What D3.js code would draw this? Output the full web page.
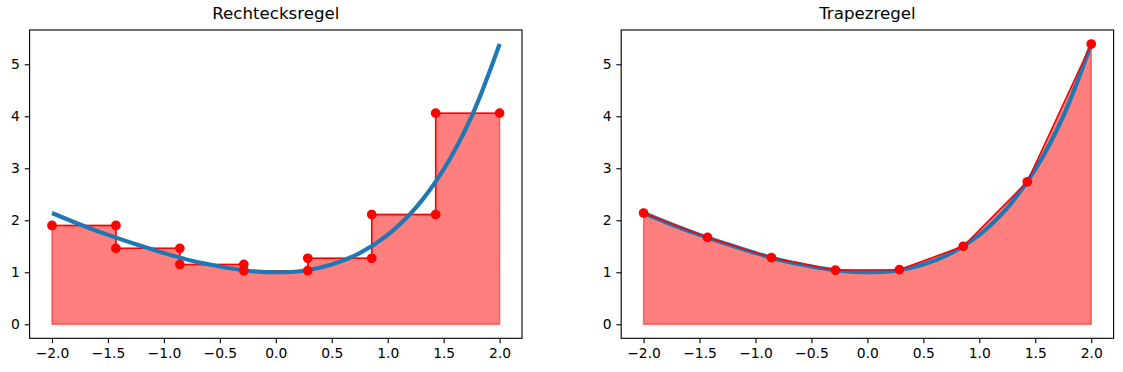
<!DOCTYPE html>
<html>
<head>
<meta charset="utf-8">
<script src="https://cdn.jsdelivr.net/npm/d3@7"></script>
<style>
	body { margin: 0; background: white; }
	text { font-family: 'DejaVu Sans', sans-serif; fill: black; }
</style>
</head>
<body>
<svg id="chart" width="1123" height="372"></svg>
<script>
// stützstellen (x) und werte
const nodesX = [-2, -1.4286, -0.8571, -0.2857, 0.2857, 0.8571, 1.4286, 2];
const rectHeights = [1.90, 1.46, 1.15, 1.03, 1.27, 2.11, 4.06];
const trapezValues = [2.14, 1.67, 1.28, 1.04, 1.05, 1.50, 2.74, 5.39];

const curveX = [-2, -1.75, -1.5, -1.25, -1, -0.75, -0.5, -0.25, 0, 0.25, 0.5, 0.75, 1, 1.25, 1.5, 1.75, 2];
const curveY = [2.14, 1.92, 1.72, 1.54, 1.37, 1.22, 1.11, 1.03, 1.00, 1.03, 1.15, 1.37, 1.72, 2.24, 2.98, 4.00, 5.39];

const xTicks = [-2, -1.5, -1, -0.5, 0, 0.5, 1, 1.5, 2];
const yTicks = [0, 1, 2, 3, 4, 5];
const titles = ['Rechtecksregel', 'Trapezregel'];

const PT = 100 / 72;
const plotTop = 30.0;
const plotBottom = 338.3;
const panels = [
	{ left: 29.6, right: 522.0 },
	{ left: 621.2, right: 1113.6 },
];

const svg = d3.select('#chart');
const yScale = d3.scaleLinear().domain([-0.2695, 5.659]).range([plotBottom, plotTop]);

const curvePoints = curveX.map((x, i) => ({ x: x, y: curveY[i] }));

function drawPanel(index) {
	const p = panels[index];
	const xScale = d3.scaleLinear().domain([-2.2, 2.2]).range([p.left, p.right]);
	const g = svg.append('g');

	const line = d3.line()
		.x((d) => xScale(d.x))
		.y((d) => yScale(d.y));

	let redPoints;
	if (index === 0) {
		redPoints = [];
		rectHeights.forEach((h, i) => {
			redPoints.push({ x: nodesX[i], y: h });
			redPoints.push({ x: nodesX[i + 1], y: h });
		});
	} else {
		redPoints = nodesX.map((x, i) => ({ x: x, y: trapezValues[i] }));
	}

	const fillPoints = [{ x: nodesX[0], y: 0 }].concat(redPoints, [{ x: nodesX[nodesX.length - 1], y: 0 }]);
	g.append('path')
		.attr('d', line(fillPoints) + 'Z')
		.attr('fill', 'red')
		.attr('fill-opacity', 0.5)
		.attr('stroke', 'red')
		.attr('stroke-opacity', 0.5)
		.attr('stroke-width', PT);

	const drawCurve = () => g.append('path')
		.attr('d', line.curve(d3.curveCatmullRom)(curvePoints))
		.attr('fill', 'none')
		.attr('stroke', '#1f77b4')
		.attr('stroke-width', 3 * PT);
	const drawRedLine = () => g.append('path')
		.attr('d', line.curve(d3.curveLinear)(redPoints))
		.attr('fill', 'none')
		.attr('stroke', 'red')
		.attr('stroke-width', 1.5)
		.attr('stroke-linejoin', 'round');

	if (index === 0) {
		drawRedLine();
		drawCurve();
	} else {
		drawCurve();
		drawRedLine();
	}
	line.curve(d3.curveLinear);

	g.selectAll('circle.marker').data(redPoints).enter().append('circle')
		.attr('class', 'marker')
		.attr('cx', (d) => xScale(d.x))
		.attr('cy', (d) => yScale(d.y))
		.attr('r', 3 * PT)
		.attr('fill', 'red')
		.attr('stroke', 'red')
		.attr('stroke-width', PT);

	// achsen
	const xAxis = g.append('g')
		.attr('transform', `translate(0,${plotBottom})`)
		.call(d3.axisBottom(xScale).tickValues(xTicks).tickFormat(d3.format('.1f'))
			.tickSize(3.5 * PT).tickPadding(3.5 * PT).tickSizeOuter(0));
	const yAxis = g.append('g')
		.attr('transform', `translate(${p.left},0)`)
		.call(d3.axisLeft(yScale).tickValues(yTicks).tickFormat(d3.format('d'))
			.tickSize(3.5 * PT).tickPadding(3.5 * PT).tickSizeOuter(0));
	[xAxis, yAxis].forEach((a) => {
		a.select('.domain').remove();
		a.attr('font-size', 10 * PT).attr('font-family', "'DejaVu Sans', sans-serif");
		a.selectAll('line').attr('stroke', 'black').attr('stroke-width', 0.8 * PT);
		a.selectAll('text').attr('font-size', 10 * PT).attr('fill', 'black');
	});

	g.append('rect')
		.attr('x', p.left)
		.attr('y', plotTop)
		.attr('width', p.right - p.left)
		.attr('height', plotBottom - plotTop)
		.attr('fill', 'none')
		.attr('stroke', 'black')
		.attr('stroke-width', 0.8 * PT);

	g.append('text')
		.attr('x', (p.left + p.right) / 2)
		.attr('y', plotTop - 6 * PT - 3)
		.attr('text-anchor', 'middle')
		.attr('font-size', 12 * PT)
		.text(titles[index]);
}

drawPanel(0);
drawPanel(1);
</script>
</body>
</html>
